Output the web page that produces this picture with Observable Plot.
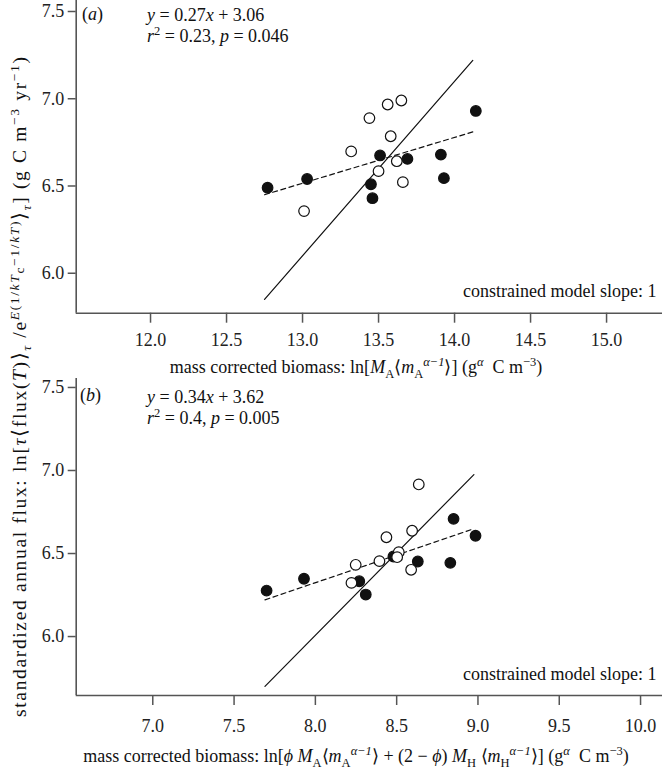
<!DOCTYPE html>
<html><head><meta charset="utf-8">
<script src="https://cdn.jsdelivr.net/npm/d3@7"></script>
<script src="https://cdn.jsdelivr.net/npm/@observablehq/plot@0.6"></script>
<style>
body{margin:0;background:#fff;}
#wrap{position:relative;width:662px;height:771px;font-family:"Liberation Serif","Times New Roman",serif;}
#wrap svg{position:absolute;left:0;}
</style></head><body><div id="wrap"></div>
<script>
// ---------- Panel (a) ----------
const aFilledX = [12.77, 13.03, 13.51, 13.45, 13.46, 13.69, 13.91, 13.93, 14.14];
const aFilledY = [6.49, 6.54, 6.675, 6.51, 6.43, 6.655, 6.68, 6.545, 6.93];
const aOpenX = [13.01, 13.32, 13.44, 13.56, 13.65, 13.58, 13.62, 13.50, 13.66];
const aOpenY = [6.356, 6.698, 6.889, 6.967, 6.99, 6.785, 6.642, 6.585, 6.522];
const aLineX = [12.75, 14.12];
const aFitY = [6.45, 6.81];     // dashed regression line
const aModelY = [5.85, 7.22];   // solid constrained slope-1 line
const aXTicks = [12.0, 12.5, 13.0, 13.5, 14.0, 14.5, 15.0];

// ---------- Panel (b) ----------
const bFilledX = [7.70, 7.93, 8.27, 8.31, 8.48, 8.63, 8.83, 8.85, 8.985];
const bFilledY = [6.277, 6.348, 6.333, 6.253, 6.482, 6.452, 6.444, 6.709, 6.607];
const bOpenX = [8.636, 8.595, 8.437, 8.248, 8.222, 8.394, 8.513, 8.503, 8.589];
const bOpenY = [6.916, 6.637, 6.598, 6.432, 6.323, 6.454, 6.508, 6.478, 6.402];
const bLineX = [7.69, 8.975];
const bFitY = [6.221, 6.649];
const bModelY = [5.70, 6.975];
const bXTicks = [7.0, 7.5, 8.0, 8.5, 9.0, 9.5, 10.0];

const yTicks = [6.0, 6.5, 7.0, 7.5];

const FONT = '"Liberation Serif","Times New Roman",serif';
const INK = "#111";
const AXIS = "#555";

function panel(o) {
  const pts = [
    ...o.fx.map((x, i) => ({x, y: o.fy[i], f: INK})),
    ...o.ox.map((x, i) => ({x, y: o.oy[i], f: "white"}))
  ];
  const fit = o.lx.map((x, i) => ({x, y: o.fit[i]}));
  const model = o.lx.map((x, i) => ({x, y: o.model[i]}));
  return Plot.plot({
    width: 662, height: o.height,
    marginLeft: 75.7, marginRight: 0, marginTop: 0, marginBottom: o.mb,
    style: {fontFamily: FONT, fontSize: "18px", color: "#222", background: "transparent", overflow: "visible"},
    x: {domain: o.xDomain},
    y: {domain: o.yDomain},
    marks: [
      Plot.ruleY([o.yDomain[0]], {stroke: AXIS, strokeWidth: 1.6}),
      Plot.ruleX([o.xDomain[0]], {stroke: AXIS, strokeWidth: 1.6}),
      Plot.axisX(o.xTicks, {tickSize: 10, tickPadding: o.tp, stroke: AXIS, strokeWidth: 1.5, fontSize: 18, tickFormat: ".1f", label: null}),
      Plot.axisY(yTicks, {tickSize: 8, tickPadding: 4, stroke: AXIS, strokeWidth: 1.5, fontSize: 18, tickFormat: ".1f", label: null}),
      Plot.line(model, {x: "x", y: "y", stroke: INK, strokeWidth: 1.2}),
      Plot.line(fit, {x: "x", y: "y", stroke: INK, strokeWidth: 1.2, strokeDasharray: "5,3.5"}),
      Plot.dot(pts, {x: "x", y: "y", r: 5.3, fill: "f", stroke: INK, strokeWidth: 1.2}),
      Plot.text(["constrained model slope: 1"], {frameAnchor: "bottom-right", dx: -6, dy: -16, fontSize: 18, fill: INK, textAnchor: "end"})
    ]
  });
}

function rich(sel, parts) {
  let cur = 0;
  for (const p of parts) {
    const s = p.s || 0;
    const ts = sel.append("tspan").text(p.t);
    if (s - cur !== 0) ts.attr("dy", s - cur);
    if (p.dx) ts.attr("dx", p.dx);
    cur = s;
    if (p.i) ts.attr("font-style", "italic");
    if (p.z) ts.attr("font-size", p.z);
  }
}

function addText(svg, x, y, parts, anchor) {
  const t = d3.select(svg).append("text")
    .attr("x", x).attr("y", y)
    .attr("font-family", FONT).attr("font-size", 18).attr("fill", INK)
    .attr("text-anchor", anchor || "start");
  rich(t, parts);
  return t;
}

const SUB = 5, SUP = -7, SZ = 12.5;

const wrap = document.getElementById("wrap");

const svgA = panel({
  fx: aFilledX, fy: aFilledY, ox: aOpenX, oy: aOpenY, lx: aLineX, fit: aFitY, model: aModelY,
  height: 378, mb: 65.3, xDomain: [11.511, 15.368], yDomain: [5.771, 7.563], xTicks: aXTicks, tp: 10.5
});
svgA.style.top = "0px";
wrap.appendChild(svgA);

const svgB = panel({
  fx: bFilledX, fy: bFilledY, ox: bOpenX, oy: bOpenY, lx: bLineX, fit: bFitY, model: bModelY,
  height: 393, mb: 76, xDomain: [6.529, 10.135], yDomain: [5.645, 7.554], xTicks: bXTicks, tp: 14
});
svgB.style.top = "378px";
wrap.appendChild(svgB);

// panel tags and statistics
addText(svgA, 82, 19.5, [{t: "("}, {t: "a", i: 1}, {t: ")"}]);
addText(svgA, 147, 21, [{t: "y", i: 1}, {t: " = 0.27"}, {t: "x", i: 1}, {t: " + 3.06"}]);
addText(svgA, 147, 42, [{t: "r", i: 1}, {t: "2", s: SUP, z: SZ}, {t: " = 0.23, "}, {t: "p", i: 1}, {t: " = 0.046"}]);

addText(svgB, 80, 23, [{t: "("}, {t: "b", i: 1}, {t: ")"}]);
addText(svgB, 147, 25, [{t: "y", i: 1}, {t: " = 0.34"}, {t: "x", i: 1}, {t: " + 3.62"}]);
addText(svgB, 147, 46, [{t: "r", i: 1}, {t: "2", s: SUP, z: SZ}, {t: " = 0.4, "}, {t: "p", i: 1}, {t: " = 0.005"}]);

// x-axis labels
addText(svgA, 356, 373, [
  {t: "mass corrected biomass: ln["}, {t: "M", i: 1}, {t: "A", s: SUB, z: SZ}, {t: "⟨"}, {t: "m", i: 1},
  {t: "A", s: SUB, z: SZ}, {t: "α−1", s: SUP, z: SZ, i: 1}, {t: "⟩] (g"},
  {t: "α", s: SUP, z: SZ, i: 1}, {t: "  C m"}, {t: "−3", s: SUP, z: SZ}, {t: ")"}
], "middle");

addText(svgB, 356, 384, [
  {t: "mass corrected biomass: ln["}, {t: "ϕ", i: 1}, {t: " "}, {t: "M", i: 1}, {t: "A", s: SUB, z: SZ}, {t: "⟨"},
  {t: "m", i: 1}, {t: "A", s: SUB, z: SZ}, {t: "α−1", s: SUP, z: SZ, i: 1}, {t: "⟩ + (2 − "},
  {t: "ϕ", i: 1}, {t: ") "}, {t: "M", i: 1}, {t: "H", s: SUB, z: SZ}, {t: " ⟨"}, {t: "m", i: 1},
  {t: "H", s: SUB, z: SZ}, {t: "α−1", s: SUP, z: SZ, i: 1}, {t: "⟩] (g"},
  {t: "α", s: SUP, z: SZ, i: 1}, {t: "  C m"}, {t: "−3", s: SUP, z: SZ}, {t: ")"}
], "middle");

// shared y-axis label
const ysvg = d3.select(wrap).append("svg")
  .attr("width", 45).attr("height", 771)
  .style("top", "0px").style("left", "0px").style("overflow", "visible");
const yl = ysvg.append("text")
  .attr("transform", "translate(26,387) rotate(-90)")
  .attr("font-family", FONT).attr("font-size", 19.5).attr("fill", INK)
  .attr("text-anchor", "middle")
  .attr("textLength", 660).attr("lengthAdjust", "spacing");
rich(yl, [
  {t: "standardized annual flux: ln["}, {t: "τ", i: 1}, {t: "⟨flux("}, {t: "T", i: 1}, {t: ")⟩"},
  {t: "τ", s: SUB, z: SZ + 1, i: 1}, {t: " /e"}, {t: "E", s: SUP, z: SZ + 1, i: 1}, {t: "(1/", s: SUP, z: SZ + 1},
  {t: "kT", s: SUP, z: SZ + 1, i: 1}, {t: "c", s: -2, z: SZ + 1}, {t: "−1/", s: SUP, z: SZ + 1}, {t: "kT", s: SUP, z: SZ + 1, i: 1},
  {t: ")", s: SUP, z: SZ + 1}, {t: "⟩"}, {t: "τ", s: SUB, z: SZ + 1, i: 1}, {t: "] (g C m"}, {t: "−3", s: SUP, z: SZ + 1},
  {t: " yr"}, {t: "−1", s: SUP, z: SZ + 1}, {t: ")"}
]);
</script>
</body></html>
